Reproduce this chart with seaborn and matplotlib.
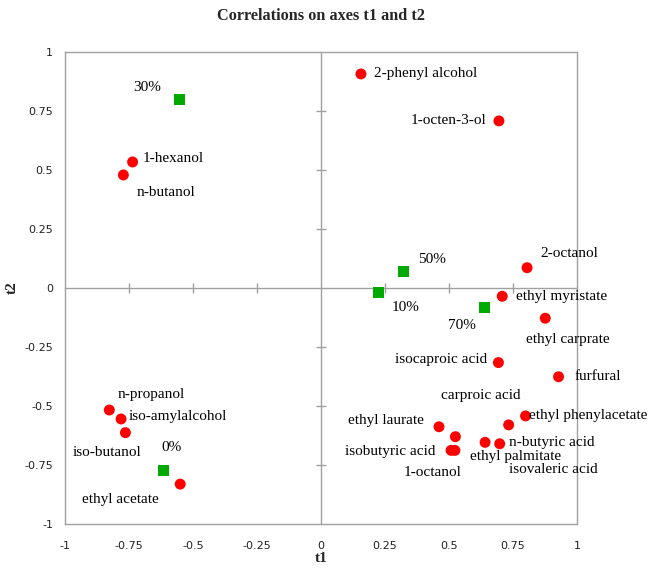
import matplotlib
matplotlib.use("Agg")
import matplotlib.pyplot as plt
import seaborn as sns
import pandas as pd

# ---- data ----
var_names = ["2-phenyl alcohol", "1-octen-3-ol", "1-hexanol", "n-butanol", "2-octanol",
             "ethyl myristate", "ethyl carprate", "isocaproic acid", "furfural",
             "ethyl phenylacetate", "carproic acid", "ethyl laurate", "isobutyric acid",
             "1-octanol", "n-butyric acid", "ethyl palmitate", "isovaleric acid",
             "n-propanol", "iso-amylalcohol", "iso-butanol", "ethyl acetate"]
var_t1 = [0.156, 0.695, -0.736, -0.772, 0.805, 0.708, 0.876, 0.693, 0.928,
          0.799, 0.733, 0.461, 0.508, 0.523, 0.641, 0.525, 0.698,
          -0.827, -0.781, -0.764, -0.550]
var_t2 = [0.907, 0.708, 0.534, 0.479, 0.086, -0.035, -0.128, -0.316, -0.376,
          -0.542, -0.580, -0.588, -0.688, -0.688, -0.654, -0.630, -0.660,
          -0.517, -0.555, -0.613, -0.831]

obs_names = ["0%", "10%", "30%", "50%", "70%"]
obs_t1 = [-0.617, 0.224, -0.551, 0.323, 0.637]
obs_t2 = [-0.775, -0.021, 0.800, 0.069, -0.083]

ticks = [-1, -0.75, -0.5, -0.25, 0, 0.25, 0.5, 0.75, 1]
tick_labels = ["-1", "-0.75", "-0.5", "-0.25", "0", "0.25", "0.5", "0.75", "1"]

title = "Correlations on axes t1 and t2"
xlabel = "t1"
ylabel = "t2"

# ---- label placement (pixel offsets, alignment) ----
var_label_style = {
    "2-phenyl alcohol": (13, 0, "left"),
    "1-octen-3-ol": (-12, 0, "right"),
    "1-hexanol": (10, 3, "left"),
    "n-butanol": (43, -18, "center"),
    "2-octanol": (42, 14, "center"),
    "ethyl myristate": (14, 0, "left"),
    "ethyl carprate": (23, -21, "center"),
    "isocaproic acid": (-11, 3, "right"),
    "furfural": (16, 0, "left"),
    "ethyl phenylacetate": (3, 0, "left"),
    "carproic acid": (-28, 29, "center"),
    "ethyl laurate": (-15, 6, "right"),
    "isobutyric acid": (-16, -1, "right"),
    "1-octanol": (-22, -22, "center"),
    "n-butyric acid": (24, 0, "left"),
    "ethyl palmitate": (60, -20, "center"),
    "isovaleric acid": (54, -26, "center"),
    "n-propanol": (42, 16, "center"),
    "iso-amylalcohol": (8, 2, "left"),
    "iso-butanol": (-18, -20, "center"),
    "ethyl acetate": (-60, -15, "center"),
}
obs_label_style = {
    "0%": (8, 23, "center"),
    "10%": (27, -15, "center"),
    "30%": (-33, 12, "center"),
    "50%": (28, 12, "center"),
    "70%": (-22, -18, "center"),
}

df = pd.concat([
    pd.DataFrame({"name": var_names, "t1": var_t1, "t2": var_t2, "kind": "Variables"}),
    pd.DataFrame({"name": obs_names, "t1": obs_t1, "t2": obs_t2, "kind": "Observations"}),
], ignore_index=True)

sns.set_style("white")
plt.rcParams["font.family"] = ["DejaVu Sans"]

fig = plt.figure(figsize=(6.49, 5.68), dpi=100)
pos = [65 / 649, 44 / 568, 512 / 649, 472 / 568]

# frame axes with tick labels at the edges
ax2 = fig.add_axes(pos)
ax2.set_xlim(-1, 1)
ax2.set_ylim(-1, 1)
ax2.set_xticks(ticks)
ax2.set_xticklabels(tick_labels)
ax2.set_yticks(ticks)
ax2.set_yticklabels(tick_labels)
ax2.tick_params(length=0, labelsize=8, labelcolor="#222222")
ax2.tick_params(axis="x", pad=12)
ax2.tick_params(axis="y", pad=8.5)
for s in ax2.spines.values():
    s.set_color("#a0a0a0")
    s.set_linewidth(1.0)
ax2.set_facecolor("white")

# data axes with centered axis lines
ax = fig.add_axes(pos)
ax.set_facecolor("none")
sns.scatterplot(data=df, x="t1", y="t2", hue="kind", style="kind",
                markers={"Variables": "o", "Observations": "s"},
                palette={"Variables": "#ff0000", "Observations": "#00aa00"},
                s=62, linewidth=0, legend=False, ax=ax, zorder=3)
ax.set_xlim(-1, 1)
ax.set_ylim(-1, 1)
ax.spines["left"].set_position(("data", 0))
ax.spines["bottom"].set_position(("data", 0))
ax.spines["top"].set_visible(False)
ax.spines["right"].set_visible(False)
for k in ("left", "bottom"):
    ax.spines[k].set_color("#a0a0a0")
    ax.spines[k].set_linewidth(1.0)
inner = [t for t in ticks if t != 0 and abs(t) != 1]
ax.set_xticks(inner)
ax.set_yticks(inner)
ax.tick_params(axis="both", which="major", direction="inout", length=7, width=1.0,
               color="#a0a0a0", labelleft=False, labelbottom=False,
               left=True, bottom=True)
ax.set_xlabel("")
ax.set_ylabel("")

serif = ["Liberation Serif", "DejaVu Serif"]
for n, x, y in zip(var_names, var_t1, var_t2):
    dx, dy, ha = var_label_style[n]
    ax.annotate(n, (x, y), xytext=(dx, dy), textcoords="offset pixels",
                ha=ha, va="center", fontsize=11, family=serif, color="black",
                annotation_clip=False, zorder=4)
for n, x, y in zip(obs_names, obs_t1, obs_t2):
    dx, dy, ha = obs_label_style[n]
    ax.annotate(n, (x, y), xytext=(dx, dy), textcoords="offset pixels",
                ha=ha, va="center", fontsize=11, family=serif, color="black",
                annotation_clip=False, zorder=4)

fig.text(321 / 649, 1 - 16 / 568, title, ha="center", va="center",
         fontsize=11.7, fontweight="bold", family=serif)
fig.text(321 / 649, 1 - 558 / 568, xlabel, ha="center", va="center",
         fontsize=11, fontweight="bold", family=serif)
fig.text(12 / 649, 1 - 288 / 568, ylabel, ha="center", va="center",
         fontsize=11, fontweight="bold", family=serif, rotation=90)

fig.savefig("out.png", dpi=100)
